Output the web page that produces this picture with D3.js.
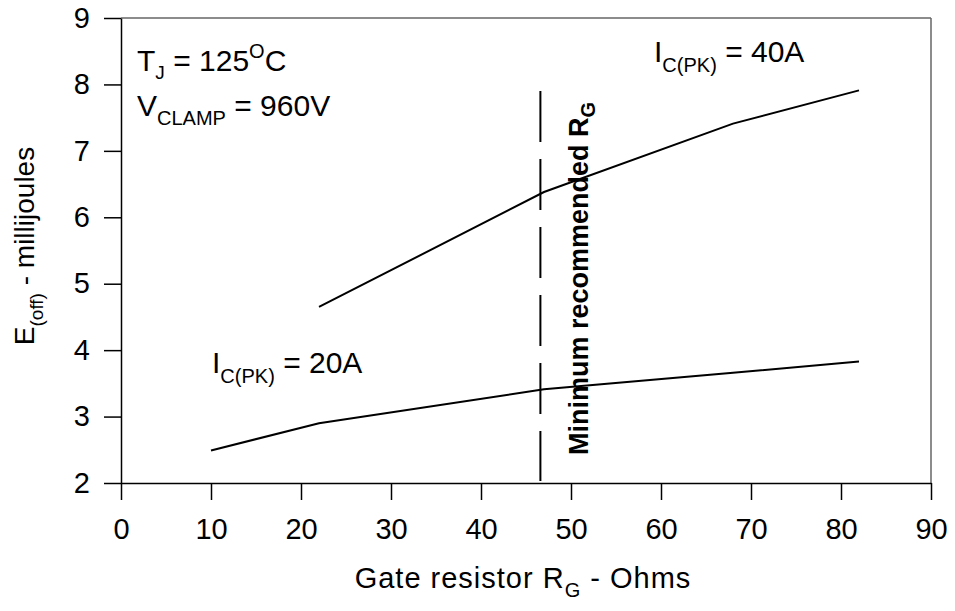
<!DOCTYPE html>
<html>
<head>
<meta charset="utf-8">
<script src="https://cdn.jsdelivr.net/npm/d3@7"></script>
<style>
  body { margin: 0; background: #fff; }
  svg text { font-family: Arial, "Liberation Sans", sans-serif; fill: #000; }
</style>
</head>
<body>
<svg id="chart" width="955" height="611"></svg>
<script>
// Turn-off energy vs gate resistance
const xTicks = [0, 10, 20, 30, 40, 50, 60, 70, 80, 90];
const yTicks = [2, 3, 4, 5, 6, 7, 8, 9];
const gateR = [10, 22, 47, 68, 82];
const eoff20A = [2.49, 2.90, 3.41, 3.66, 3.83];
const gateR40 = [22, 47, 68, 82];
const eoff40A = [4.65, 6.38, 7.41, 7.91];
const minRg = 46.6;
const minRgTop = 7.9;

const svg = d3.select("#chart");
const plotLeft = 121, plotRight = 931, plotTop = 18, plotBottom = 483;

const x = d3.scaleLinear().domain([0, 90]).range([plotLeft, plotRight]);
const y = d3.scaleLinear().domain([2, 9]).range([plotBottom, plotTop]);

// frame: top and right edges in grey
svg.append("line").attr("x1", plotLeft).attr("x2", plotRight).attr("y1", plotTop).attr("y2", plotTop)
  .attr("stroke", "#666").attr("stroke-width", 1.5);
svg.append("line").attr("x1", plotRight).attr("x2", plotRight).attr("y1", plotTop).attr("y2", plotBottom)
  .attr("stroke", "#666").attr("stroke-width", 1.5);

const xAxis = svg.append("g").attr("transform", `translate(0,${plotBottom})`)
  .call(d3.axisBottom(x).tickValues(xTicks).tickFormat(d3.format("d"))
    .tickSize(17).tickPadding(18).tickSizeOuter(0));
const yAxis = svg.append("g").attr("transform", `translate(${plotLeft},0)`)
  .call(d3.axisLeft(y).tickValues(yTicks).tickFormat(d3.format("d"))
    .tickSize(17).tickPadding(14).tickSizeOuter(0));

[xAxis, yAxis].forEach(g => {
  g.select(".domain").attr("stroke", "#000").attr("stroke-width", 1.5);
  g.selectAll(".tick line").attr("stroke", "#000").attr("stroke-width", 1.5);
  g.selectAll(".tick text").attr("font-size", 29).attr("font-family", "Arial, 'Liberation Sans', sans-serif").attr("fill", "#000");
});

const line = d3.line().x(d => x(d[0])).y(d => y(d[1]));

svg.append("path").datum(gateR.map((r, i) => [r, eoff20A[i]]))
  .attr("d", line).attr("fill", "none").attr("stroke", "#000").attr("stroke-width", 2);
svg.append("path").datum(gateR40.map((r, i) => [r, eoff40A[i]]))
  .attr("d", line).attr("fill", "none").attr("stroke", "#000").attr("stroke-width", 2);

// minimum recommended gate resistance marker
svg.append("line")
  .attr("x1", x(minRg)).attr("x2", x(minRg))
  .attr("y1", y(minRgTop)).attr("y2", plotBottom - 2)
  .attr("stroke", "#000").attr("stroke-width", 2)
  .attr("stroke-dasharray", "51 17");

const rot = svg.append("text")
  .attr("transform", `translate(${x(minRg) + 48},455) rotate(-90)`)
  .attr("font-size", 27).attr("font-weight", "bold");
rot.append("tspan").text("Minimum recommended R");
rot.append("tspan").attr("font-size", 20).attr("dy", 7).text("G");

// condition annotations
const t1 = svg.append("text").attr("x", 137).attr("y", 71).attr("font-size", 30);
t1.append("tspan").text("T");
t1.append("tspan").attr("font-size", 19).attr("dy", 8).text("J");
t1.append("tspan").attr("dy", -8).text(" = 125");
t1.append("tspan").attr("font-size", 20).attr("dy", -13).text("O");
t1.append("tspan").attr("dy", 13).text("C");

const t2 = svg.append("text").attr("x", 137).attr("y", 116).attr("font-size", 30);
t2.append("tspan").text("V");
t2.append("tspan").attr("font-size", 20).attr("dy", 9).text("CLAMP");
t2.append("tspan").attr("dy", -9).text(" = 960V");

const l40 = svg.append("text").attr("x", 654).attr("y", 62).attr("font-size", 30);
l40.append("tspan").text("I");
l40.append("tspan").attr("font-size", 20).attr("dy", 10).text("C(PK)");
l40.append("tspan").attr("dy", -10).text(" = 40A");

const l20 = svg.append("text").attr("x", 212).attr("y", 373).attr("font-size", 30);
l20.append("tspan").text("I");
l20.append("tspan").attr("font-size", 20).attr("dy", 10).text("C(PK)");
l20.append("tspan").attr("dy", -10).text(" = 20A");

// axis titles
const xt = svg.append("text").attr("x", 523).attr("y", 588).attr("text-anchor", "middle")
  .attr("font-size", 29).attr("letter-spacing", 1);
xt.append("tspan").text("Gate resistor R");
xt.append("tspan").attr("font-size", 20).attr("dy", 9).text("G");
xt.append("tspan").attr("dy", -9).text(" - Ohms");

const yt = svg.append("text").attr("transform", "translate(34,246) rotate(-90)")
  .attr("text-anchor", "middle").attr("font-size", 28);
yt.append("tspan").text("E");
yt.append("tspan").attr("font-size", 19).attr("dy", 9).text("(off)");
yt.append("tspan").attr("dy", -9).text(" - millijoules");
</script>
</body>
</html>
